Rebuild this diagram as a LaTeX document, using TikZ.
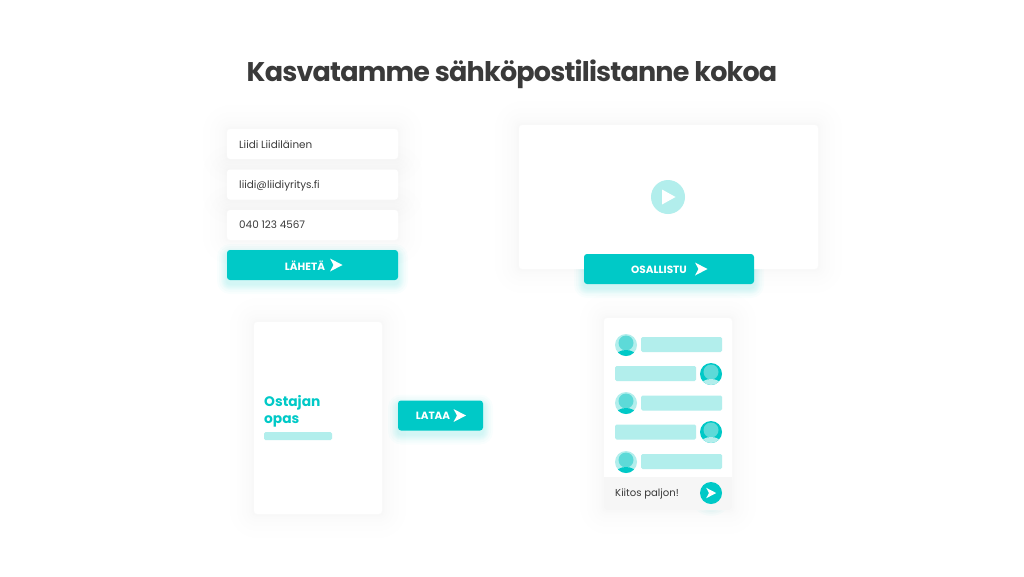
\documentclass[tikz,border=0pt]{standalone}
\usepackage{fontspec}
\setmainfont{Poppins}
\usetikzlibrary{positioning}
\usetikzlibrary{backgrounds}

\definecolor{tealmain}{HTML}{00C9C7}
\definecolor{teallight}{HTML}{B2EEEC}
\definecolor{tealmid}{HTML}{5DDAD8}
\definecolor{inktext}{HTML}{3A3A3A}
\definecolor{footgray}{HTML}{F6F6F6}

\tikzset{
  card/.style={rectangle, fill=white, rounded corners=3pt, inner sep=0pt, outer sep=0pt},
  fieldbox/.style={card, minimum width=171pt, minimum height=30pt},
  fieldtext/.style={text=inktext, font=\fontsize{10.4}{13}\selectfont, inner sep=0pt, anchor=west},
  ctabtn/.style={rectangle, fill=tealmain, rounded corners=3pt, minimum height=30pt, inner sep=0pt, outer sep=0pt},
  ctatext/.style={text=white, font=\fontsize{10.5}{13}\selectfont\bfseries, inner sep=0pt},
  bubble/.style={rectangle, fill=teallight, rounded corners=1.5pt, minimum width=81pt, minimum height=15pt, inner sep=0pt, outer sep=0pt},
  sendarrow/.pic={\fill[white] (-6,-6.5) -- (6.5,0) -- (-6,6.5) -- (-2.5,0) -- cycle;},
  avatar/.pic={
    \fill[teallight] (0,0) circle (11);
    \begin{scope}
      \clip (0,0) circle (11);
      \fill[tealmid] (0,-2) circle (7.5);
      \fill[tealmain] (0,11) ellipse (10 and 6);
    \end{scope}
  },
  avatarinv/.pic={
    \fill[tealmain] (0,0) circle (11);
    \begin{scope}
      \clip (0,0) circle (11);
      \fill[tealmid] (0,-2) circle (7.5);
      \fill[teallight] (0,11) ellipse (10 and 6);
    \end{scope}
  }
}

\begin{document}
\begin{tikzpicture}[x=1pt,y=-1pt]
\useasboundingbox (0,0) rectangle (1024,576);

\node[text=inktext, font=\fontsize{27}{34}\selectfont\bfseries\addfontfeature{LetterSpace=-3}, inner sep=0pt] (title) at (512,74) {Kasvatamme sähköpostilistanne kokoa};

% form
\node[fieldbox] (name) at (312.5,144) {};
\node[fieldbox] (mail) at (312.5,184.5) {};
\node[fieldbox] (phone) at (312.5,225) {};
\node[ctabtn, minimum width=171pt] (send) at (312.5,265) {};
\node[fieldtext] (nametext) at (239,144.5) {Liidi Liidiläinen};
\node[fieldtext] (mailtext) at (239,186) {liidi@liidiyritys.fi};
\node[fieldtext] (phonetext) at (239,225) {040 123 4567};
\node[ctatext] (sendtext) at (305,265.5) {LÄHETÄ};
\pic at (336,265) {sendarrow};

% video
\node[card, minimum width=299pt, minimum height=144pt] (video) at (668.5,197) {};
\node[circle, fill=teallight, minimum size=34pt, inner sep=0pt] (play) at (668,197) {};
\fill[white] (662,189.5) -- (675.5,197) -- (662,204.5) -- cycle;
\node[ctabtn, minimum width=170pt] (join) at (669,269) {};
\node[ctatext] (jointext) at (659,269.5) {OSALLISTU};
\pic at (701,269) {sendarrow};

% guide
\node[card, minimum width=128pt, minimum height=192pt] (guide) at (318,418) {};
\node[text=tealmain, font=\fontsize{13.8}{16.5}\selectfont\bfseries, align=left, inner sep=0pt, anchor=north west] (guidetext) at (264,395.5) {Ostajan\\opas};
\node[bubble, minimum width=68pt, minimum height=8pt, anchor=west] (guidebar) at (264,436) {};
\node[ctabtn, minimum width=85pt] (load) at (440.5,415.5) {};
\node[ctatext] (loadtext) at (433,416) {LATAA};
\pic at (459.5,415.5) {sendarrow};

% chat
\node[card, minimum width=128pt, minimum height=192pt] (chat) at (668,414) {};
\fill[footgray, rounded corners=3pt] (604,477) -- (732,477) -- (732,510) -- (604,510) -- cycle;
\fill[footgray] (604,477) rectangle (732,490);
\node[bubble] (msga) at (681.5,344.5) {};
\node[bubble] (msgb) at (655.5,373.5) {};
\node[bubble] (msgc) at (681.5,403) {};
\node[bubble] (msgd) at (655.5,432) {};
\node[bubble] (msge) at (681.5,461.5) {};
\pic at (626,345) {avatar};
\pic at (711,374) {avatarinv};
\pic at (626,403) {avatar};
\pic at (711,432) {avatarinv};
\pic at (626,462) {avatar};
\node[fieldtext, font=\fontsize{10.1}{13}\selectfont] (chattext) at (615,494) {Kiitos paljon!};
\node[circle, fill=tealmain, minimum size=22pt, inner sep=0pt] (sendchat) at (711,493) {};
\pic[scale=0.8] at (711,493) {sendarrow};

% soft shadows
\begin{scope}[on background layer]
\foreach \card in {name,mail,phone,video,guide,chat}
  \foreach \i in {2,3,5,8,12,17,24}
    \fill[black, opacity=0.003, rounded corners=\i pt+3pt]
      ([xshift=-\i pt, yshift=\i pt]\card.north west) rectangle ([xshift=\i pt, yshift=-\i pt]\card.south east);
\foreach \btn in {send,join,load}
  \foreach \i in {1,2,3,4,5,6,8,10}
    \fill[tealmain, opacity=0.025, rounded corners=\i pt+3pt]
      ([xshift=-\i pt, yshift=\i pt-4pt]\btn.north west) rectangle ([xshift=\i pt, yshift=-\i pt-4pt]\btn.south east);
\foreach \i in {1,2,3,4,5,6,8,10}
  \fill[tealmain, opacity=0.022] ([yshift=-2pt]sendchat.center) circle (11pt+\i pt);
\end{scope}
\end{tikzpicture}
\end{document}
